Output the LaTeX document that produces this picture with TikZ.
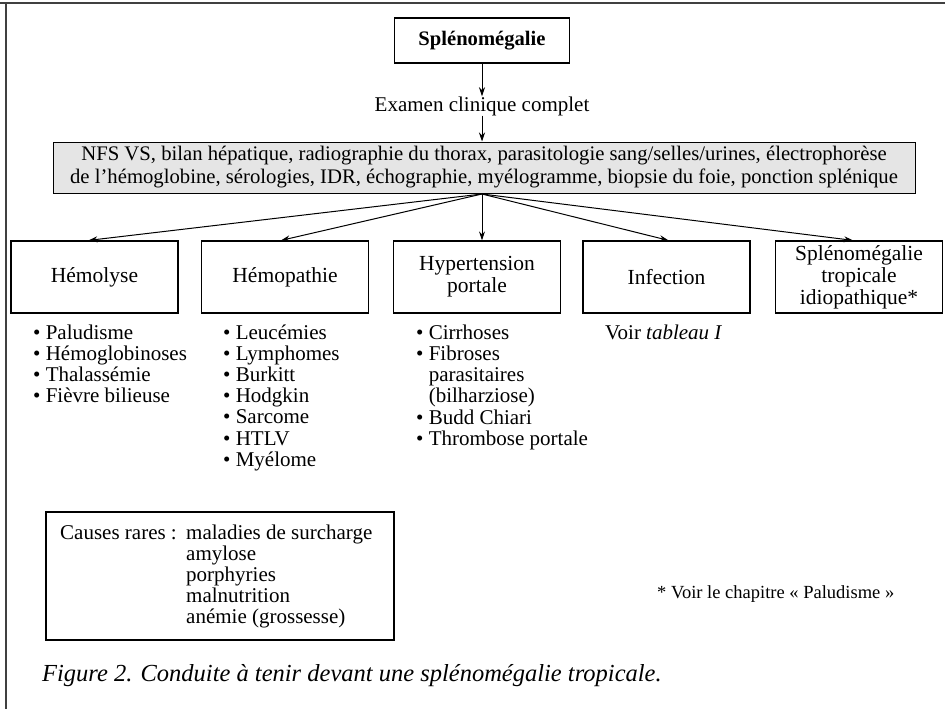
\documentclass[tikz,border=0pt]{standalone}
\usepackage{fontspec}
\setmainfont{Liberation Serif}
\usetikzlibrary{arrows.meta,positioning}

\tikzset{
  frameline/.style={line width=1.6pt, black!75},
  catbox/.style={draw, line width=1.2pt, minimum width=167pt, minimum height=72pt,
                 inner sep=2pt, align=center, font=\fontsize{21.5}{22}\selectfont},
  flow/.style={-{Stealth[length=9pt,width=6pt]}, line width=1pt},
  item/.style={inner sep=0pt, anchor=base west, font=\fontsize{21}{21}\selectfont},
  plain/.style={inner sep=0pt, font=\fontsize{21}{21}\selectfont},
}

\begin{document}
\begin{tikzpicture}[x=1pt,y=-1pt]
  \useasboundingbox (0,0) rectangle (945,709);

  % page frame
  \draw[frameline] (0,3) -- (945,3);
  \draw[frameline] (6,3) -- (6,709);

  % head of the chart
  \node[draw, line width=1.2pt, minimum width=175pt, minimum height=45pt,
        font=\fontsize{20.6}{22}\selectfont\bfseries] (splen) at (482,40.5) {Splénomégalie};
  \node[plain] (exam) at (482,106) {Examen clinique complet};
  \node[draw, line width=1pt, fill=black!10, minimum width=862pt, minimum height=51pt,
        inner sep=0pt, align=center, font=\fontsize{20.7}{23}\selectfont] (tests) at (484,167.5)
    {NFS VS, bilan hépatique, radiographie du thorax, parasitologie sang/selles/urines, électrophorèse\\
     de l'hémoglobine, sérologies, IDR, échographie, myélogramme, biopsie du foie, ponction splénique};

  \draw[flow] (splen.south) -- (exam.north);
  \draw[flow] (exam.south) -- (tests.north -| exam.south);

  % categories
  \node[catbox] (hemo)  at (94.5,277) {Hémolyse};
  \node[catbox] (hpath) at (285,277)  {Hémopathie};
  \node[catbox] (hta)   at (477,277)  {Hypertension\\portale};
  \node[catbox] (inf)   at (666.5,277){Infection};
  \node[catbox] (stip)  at (859,277)  {Splénomégalie\\tropicale\\idiopathique*};

  \coordinate (fork) at (482,194);
  \draw[flow] (fork) -- ([xshift=-6pt]hemo.north);
  \draw[flow] (fork) -- ([xshift=-4pt]hpath.north);
  \draw[flow] (fork) -- ([xshift=5pt]hta.north);
  \draw[flow] (fork) -- ([xshift=2pt]inf.north);
  \draw[flow] (fork) -- ([xshift=-6pt]stip.north);

  % causes under each category
  \foreach \t [count=\i] in {Paludisme, Hémoglobinoses, Thalassémie, Fièvre bilieuse}
    \node[item] (ha\i) at (33,{339+21*(\i-1)}) {\textbullet\ \t};
  \foreach \t [count=\i] in {Leucémies, Lymphomes, Burkitt, Hodgkin, Sarcome, HTLV, Myélome}
    \node[item] (hp\i) at (223,{339+21.2*(\i-1)}) {\textbullet\ \t};
  \foreach \t/\b [count=\i] in {Cirrhoses/1, Fibroses/1, parasitaires/0, (bilharziose)/0, Budd Chiari/1, Thrombose portale/1}
    \node[item] (ht\i) at (416,{339+21.3*(\i-1)})
      {\ifnum\b=1 \textbullet\ \else\hphantom{\textbullet\ }\fi\t};
  \node[item] (voir) at (605,339) {Voir \textit{tableau I}};

  % rare causes
  \draw[line width=1.2pt] (46,512) rectangle (394,640);
  \node[item] (rares) at (60,539) {Causes rares :};
  \foreach \t [count=\i] in {maladies de surcharge, amylose, porphyries, malnutrition, anémie (grossesse)}
    \node[item] (rc\i) at (186,{539+21*(\i-1)}) {\t};

  \node[inner sep=0pt, anchor=base west, font=\fontsize{18.5}{20}\selectfont] (note) at (657,598)
    {* Voir le chapitre « Paludisme »};

  % caption
  \node[inner sep=0pt, anchor=base west, font=\fontsize{24.5}{26}\selectfont\itshape] (cap) at (42,681)
    {Figure 2. Conduite à tenir devant une splénomégalie tropicale.};
\end{tikzpicture}
\end{document}
